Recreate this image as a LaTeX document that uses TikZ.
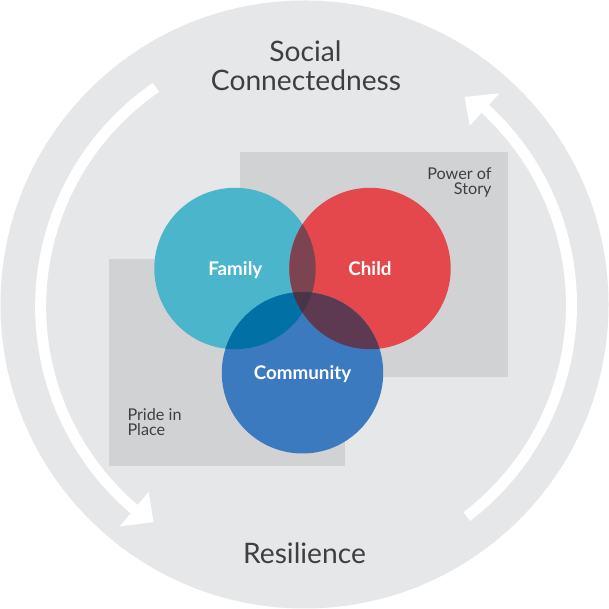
\documentclass[tikz,border=0pt]{standalone}
\usepackage{fontspec}
\setmainfont{Lato}
\usetikzlibrary{calc}
\begin{document}
\begin{tikzpicture}[x=1pt,y=1pt]
\definecolor{ring}{HTML}{E6E7E8}
\definecolor{panel}{HTML}{D1D2D4}
\definecolor{txt}{HTML}{3F3F41}
\definecolor{famc}{HTML}{4BB6CB}
\definecolor{chic}{HTML}{E5484C}
\definecolor{comc}{HTML}{3C7ABF}
\definecolor{fcc}{HTML}{7C4450}
\definecolor{fmc}{HTML}{0070A5}
\definecolor{cmc}{HTML}{5E3A52}
\definecolor{allc}{HTML}{4A3448}
\tikzset{
  title/.style={text=txt, font=\fontsize{28.2}{30}\selectfont, inner sep=0pt, anchor=base},
  small/.style={text=txt, font=\fontsize{16.2}{16}\selectfont, inner sep=0pt},
  lbl/.style={text=white, font=\bfseries\fontsize{18.8}{20}\selectfont, inner sep=0pt, anchor=base},
  shaft/.style={white, line width=11pt, line cap=butt}
}
\useasboundingbox (0,0) rectangle (609,609);
\fill[white] (0,0) rectangle (609,609);
% outer ring
\fill[ring] (304.5,304.5) circle[radius=304];
% panels
\fill[panel] (240,232) rectangle (508,457);
\fill[panel] (109,143) rectangle (345,350);
% cycle arrows
\coordinate (C) at (305.5,304);
\draw[shaft] ($(C)+(124.5:264)$) arc[start angle=124.5, end angle=230, radius=266];
\fill[white] ($(C)+(230:244)$) -- ($(C)+(230:289)$) -- ($(C)+(235:265)$) -- cycle;
\draw[shaft] ($(C)+(-52.7:266)$) arc[start angle=-52.7, end angle=47.5, radius=266];
\fill[white] ($(C)+(47.5:243)$) -- ($(C)+(47.5:287)$) -- ($(C)+(52.6:262)$) -- cycle;
% circles
\coordinate (F) at (235,340.5);
\coordinate (K) at (370,340.5);
\coordinate (M) at (302.5,236.2);
\def\R{80.7}
\fill[famc] (F) circle[radius=\R];
\fill[chic] (K) circle[radius=\R];
\fill[comc] (M) circle[radius=\R];
\begin{scope}\clip (F) circle[radius=\R]; \fill[fcc] (K) circle[radius=\R];\end{scope}
\begin{scope}\clip (F) circle[radius=\R]; \fill[fmc] (M) circle[radius=\R];\end{scope}
\begin{scope}\clip (K) circle[radius=\R]; \fill[cmc] (M) circle[radius=\R];\end{scope}
\begin{scope}\clip (F) circle[radius=\R]; \clip (K) circle[radius=\R]; \fill[allc] (M) circle[radius=\R];\end{scope}
% labels
\node[lbl] (family) at (235.3,333.3) {Family};
\node[lbl] (child) at (370,333.3) {Child};
\node[lbl] (community) at (302.5,229.7) {Community};
\node[title] (social) at (305.5,547.3) {Social};
\node[title] (connect) at (306,518.3) {Connectedness};
\node[title] (resil) at (304.5,45) {Resilience};
\node[small, anchor=base east] (power) at (491.7,429.7) {Power of};
\node[small, anchor=base east] (story) at (491.7,414.7) {Story};
\node[small, anchor=base west] (pride) at (127.3,188.3) {Pride in};
\node[small, anchor=base west] (place) at (127.3,173.3) {Place};
\end{tikzpicture}
\end{document}
